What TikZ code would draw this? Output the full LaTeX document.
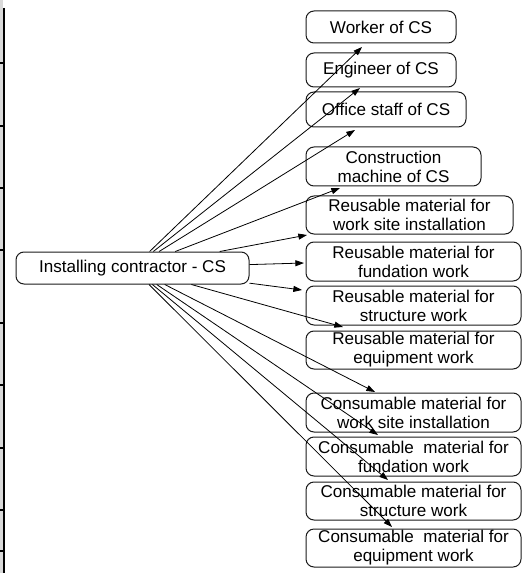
\documentclass[tikz,border=0pt]{standalone}
\usepackage{fontspec}
\setmainfont{Liberation Sans}
\usetikzlibrary{arrows.meta}
\definecolor{cline}{HTML}{1A1A1A}
\definecolor{cstrip}{HTML}{D9D9D9}
\tikzset{
  every picture/.style={line width=0.75pt},
  box/.style 2 args={draw=cline, rounded corners=6pt, align=center, inner sep=0pt,
    minimum width=#1*0.75pt, minimum height=#2*0.75pt,
    font=\fontsize{12.8}{14.3}\selectfont},
  arrow/.style={-{Triangle[length=6.5pt, width=4.5pt]}, draw=black, line width=0.6pt},
}
\begin{document}
\begin{tikzpicture}[x=0.75pt, y=-0.75pt]
  \useasboundingbox (0,0) rectangle (528,573);
  % cut-off table edge on the left
  \fill[cstrip] (0,0) rectangle (3,573);
  \draw[line width=1.5pt] (3.8,8) -- (3.8,573);
  \foreach \ty in {63, 126, 188, 250, 323, 385, 448, 510, 551}
    \draw[line width=1.1pt] (0,\ty) -- (3.8,\ty);
  % source
  \node[box={233}{32}] (ic) at (132.5,268) {Installing contractor - CS};
  % targets
  \node[box={150}{32}] (wk) at (381,27) {Worker of CS};
  \node[box={150}{34}] (en) at (381,70) {Engineer of CS};
  \node[box={160}{35}] (of) at (386,109.5) {Office staff of CS};
  \node[box={175}{39}] (cm) at (393.5,166.5) {Construction\\machine of CS};
  \node[box={207}{38}] (rw) at (409.5,215) {Reusable material for\\work site installation};
  \node[box={215}{39}] (rf) at (413.5,261.5) {Reusable material for\\fundation work};
  \node[box={215}{39}] (rs) at (413.5,305.5) {Reusable material for\\structure work};
  \node[box={215}{38}] (re) at (413.5,350) {Reusable material for\\equipment work};
  \node[box={215}{39}] (cw) at (413.5,412.5) {Consumable material for\\work site installation};
  \node[box={215}{39}] (cf) at (413.5,456.5) {Consumable\ \ material for\\fundation work};
  \node[box={215}{38}] (cs) at (413.5,501) {Consumable material for\\structure work};
  \node[box={215}{38}] (ce) at (413.5,548) {Consumable\ \ material for\\equipment work};
  % connectors
  \foreach \n/\ex/\ey in {wk/362/47, en/360/88, of/355/130, cm/340/188, rw/307/235, rf/304/263,
      rs/302/290, re/343/327, cw/375/392, cf/378/435, cs/388/480, ce/392/527} {
    \coordinate (\n-in) at (\ex,\ey);
    \draw[arrow] (ic) -- (\n-in);
  }
\end{tikzpicture}
\end{document}
